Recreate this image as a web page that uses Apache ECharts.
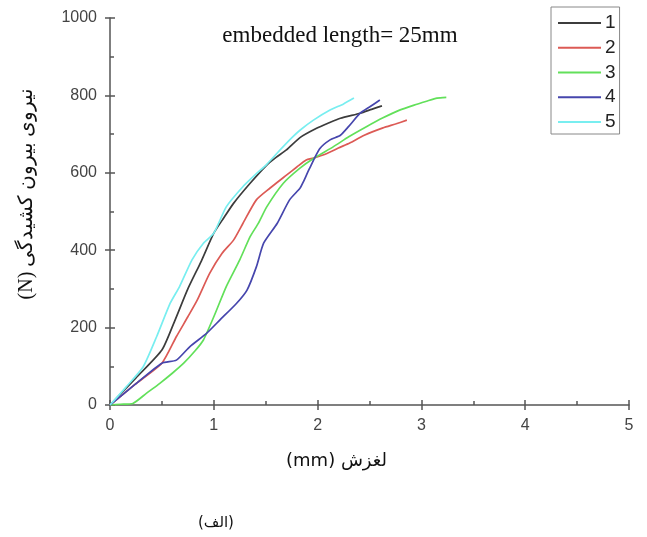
<!DOCTYPE html>
<html>
<head>
<meta charset="utf-8">
<script src="https://cdn.jsdelivr.net/npm/echarts@6/dist/echarts.min.js"></script>
<style>html,body{margin:0;padding:0;background:#fff}#c{width:647px;height:537px}</style>
</head>
<body>
<div id="c"></div>
<script>
const seriesNames = ['1', '2', '3', '4', '5'];
const seriesColors = ['#3c3c3c', '#dc5a55', '#62e05a', '#4646ad', '#78eef0'];
const curve1 = [[0,0],[0.25,70],[0.5,142],[0.62,215],[0.75,300],[0.88,372],[1.0,444],[1.1,485],[1.19,521],[1.35,573],[1.51,620],[1.6,640],[1.7,659],[1.83,691],[1.99,715],[2.1,728],[2.22,741],[2.41,754],[2.52,764],[2.62,773]];
const curve2 = [[0,0],[0.25,55],[0.5,108],[0.64,177],[0.75,228],[0.84,271],[0.96,340],[1.08,392],[1.19,426],[1.28,469],[1.41,530],[1.54,560],[1.7,594],[1.8,615],[1.89,633],[1.96,638],[2.09,650],[2.2,664],[2.31,677],[2.45,697],[2.63,716],[2.75,726],[2.86,736]];
const curve3 = [[0,0],[0.1,2],[0.22,4],[0.35,30],[0.48,56],[0.6,82],[0.71,108],[0.82,140],[0.9,168],[1.0,228],[1.12,306],[1.25,375],[1.35,435],[1.43,470],[1.51,512],[1.67,573],[1.83,612],[1.96,637],[2.15,667],[2.3,693],[2.47,719],[2.63,742],[2.79,762],[2.93,775],[3.05,785],[3.15,793],[3.24,795]];
const curve4 = [[0,0],[0.25,55],[0.5,108],[0.64,116],[0.77,151],[0.93,185],[1.06,220],[1.22,263],[1.32,297],[1.41,357],[1.48,418],[1.61,469],[1.73,530],[1.83,560],[1.86,575],[1.92,610],[2.02,662],[2.12,685],[2.22,697],[2.3,720],[2.41,754],[2.5,770],[2.6,788]];
const curve5 = [[0,0],[0.15,45],[0.32,99],[0.45,177],[0.58,263],[0.67,306],[0.79,375],[0.9,418],[1.0,444],[1.12,512],[1.28,564],[1.4,595],[1.51,622],[1.6,648],[1.75,690],[1.83,710],[1.96,736],[2.12,762],[2.25,778],[2.35,793]];
const curves = [curve1, curve2, curve3, curve4, curve5];
const xTicks = [0, 1, 2, 3, 4, 5];
const yTicks = [0, 200, 400, 600, 800, 1000];

const chart = echarts.init(document.getElementById('c'), null, {renderer: 'canvas'});
const axisColor = '#555';
const option = {
  animation: false,
  backgroundColor: '#fff',
  title: {
    text: 'embedded length= 25mm',
    left: 335, top: 19, textAlign: 'center',
    textStyle: {fontFamily: '"Liberation Serif", "Times New Roman", serif', fontSize: 23, fontWeight: 'normal', color: '#111'}
  },
  legend: {
    data: seriesNames,
    orient: 'vertical',
    left: 551, top: 7,
    width: 68, height: 126,
    padding: [6, 4, 2, 7],
    icon: 'rect',
    itemWidth: 43, itemHeight: 2, itemGap: 4.75,
    borderColor: '#888', borderWidth: 1,
    textStyle: {fontFamily: 'Liberation Sans, Arial, sans-serif', fontSize: 19, color: '#222', lineHeight: 20, height: 20, padding: [0,0,0,-1]}
  },
  grid: {left: 110, right: 18, top: 18, bottom: 132, containLabel: false},
  xAxis: [{
    type: 'value', min: xTicks[0], max: xTicks[xTicks.length - 1], interval: 1,
    axisLine: {show: true, lineStyle: {color: axisColor, width: 1.5}},
    axisTick: {show: true, inside: true, length: 5, lineStyle: {color: axisColor, width: 1.5}},
    minorTick: {show: true, splitNumber: 2, length: 4, lineStyle: {color: axisColor, width: 1.5}},
    splitLine: {show: false},
    axisLabel: {color: '#444', fontSize: 16, fontFamily: 'Liberation Sans, Arial, sans-serif', margin: 13},
    name: '(mm) لغزش', nameLocation: 'middle', nameGap: 47,
    nameTextStyle: {fontFamily: 'DejaVu Sans, Liberation Sans, sans-serif', fontSize: 18, color: '#111', padding: [0, 66, 0, 0]}
  }, {
    type: 'value', min: xTicks[0], max: xTicks[xTicks.length - 1], interval: 1, position: 'bottom',
    axisLine: {show: false}, axisLabel: {show: false}, splitLine: {show: false},
    axisTick: {show: true, inside: false, length: 5, lineStyle: {color: axisColor, width: 1.5}}
  }],
  yAxis: [{
    type: 'value', min: yTicks[0], max: yTicks[yTicks.length - 1], interval: 200,
    axisLine: {show: true, lineStyle: {color: axisColor, width: 1.5}},
    axisTick: {show: true, inside: true, length: 5, lineStyle: {color: axisColor, width: 1.5}},
    minorTick: {show: true, splitNumber: 2, length: 4, lineStyle: {color: axisColor, width: 1.5}},
    splitLine: {show: false},
    axisLabel: {color: '#444', fontSize: 16, fontFamily: 'Liberation Sans, Arial, sans-serif', margin: 13, formatter: v => String(v)},
    name: '(N) نیروی بیرون کشیدگی', nameLocation: 'middle', nameGap: 73, nameRotate: 90,
    nameTextStyle: {fontFamily: '"Liberation Serif", "DejaVu Serif", serif', fontSize: 20, color: '#111', padding: [0, 0, 0, 36]}
  }, {
    type: 'value', min: yTicks[0], max: yTicks[yTicks.length - 1], interval: 200, position: 'left',
    axisLine: {show: false}, axisLabel: {show: false}, splitLine: {show: false},
    axisTick: {show: true, inside: false, length: 5, lineStyle: {color: axisColor, width: 1.5}}
  }],
  graphic: [{
    type: 'text', left: 198, top: 516,
    style: {text: '(الف)', font: '15px "DejaVu Sans", sans-serif', fill: '#111'}
  }],
  series: curves.map((c, i) => ({
    name: seriesNames[i], type: 'line', data: c, symbol: 'none', smooth: 0.2,
    xAxisIndex: 0, yAxisIndex: 0,
    lineStyle: {color: seriesColors[i], width: 1.7},
    itemStyle: {color: seriesColors[i]}
  }))
};
chart.setOption(option);
</script>
</body>
</html>
